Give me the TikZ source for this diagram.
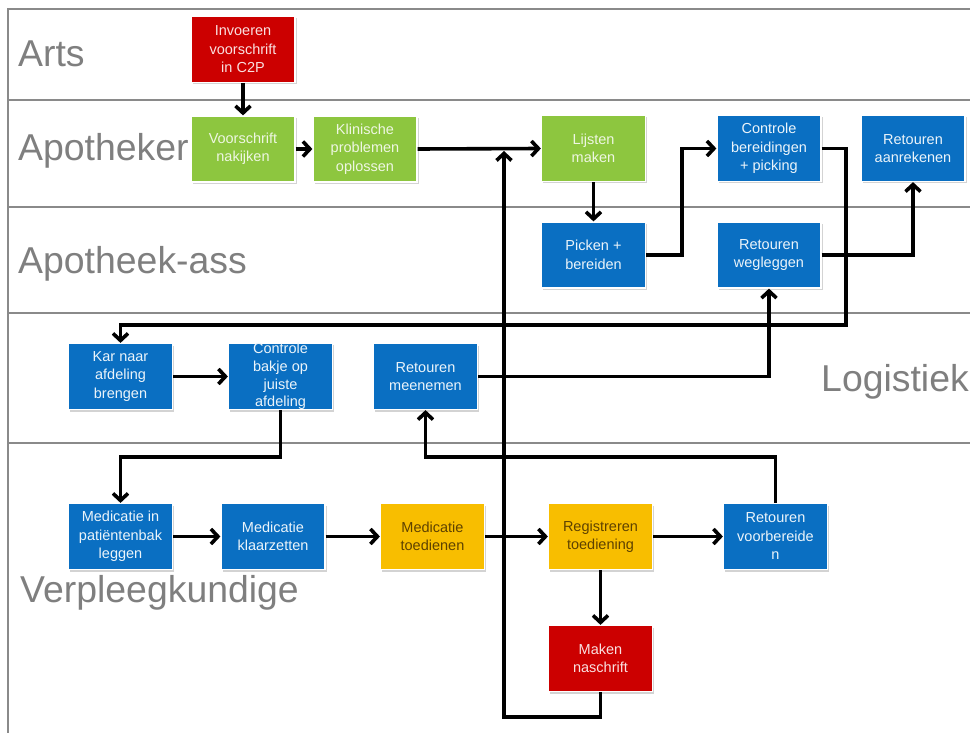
\documentclass[tikz,border=0pt]{standalone}
\usepackage{fontspec}
\setmainfont{Liberation Sans}
\usetikzlibrary{arrows.meta,shadows}
\definecolor{lanegray}{HTML}{8A8A8A}
\definecolor{labelgray}{HTML}{7F7F7F}
\definecolor{boxgreen}{HTML}{8DC63F}
\definecolor{boxblue}{HTML}{0A6FC2}
\definecolor{boxred}{HTML}{CC0000}
\definecolor{boxyellow}{HTML}{F8BE00}
\definecolor{yellowtext}{HTML}{5E4200}
\begin{document}
\begin{tikzpicture}[x=1pt,y=-1pt,
  lane/.style={draw=lanegray, line width=2.2pt},
  lanelabel/.style={text=labelgray, font=\fontsize{37.4}{40}\selectfont, anchor=base west, inner sep=0pt},
  box/.style={minimum width=104pt, minimum height=66pt, inner sep=0pt, align=center,
    font=\fontsize{14.5}{18.5}\selectfont, draw=white, line width=1.2pt,
    drop shadow={opacity=0.35, shadow xshift=1.5pt, shadow yshift=-2pt}},
  greenbox/.style={box, fill=boxgreen, text=white!85!boxgreen},
  bluebox/.style={box, fill=boxblue, text=white!92!boxblue},
  redbox/.style={box, fill=boxred, text=white!88!boxred},
  yellowbox/.style={box, fill=boxyellow, text=yellowtext},
  arr/.style={draw=black, line width=3.6pt, -{Straight Barb[length=7pt,width=15pt]}}
]
\useasboundingbox (0,0) rectangle (970,733);
\clip (0,0) rectangle (970,733);

% lanes
\draw[lane] (970,9) -- (8,9) -- (8,733);
\draw[lane] (8,100) -- (970,100);
\draw[lane] (8,207) -- (970,207);
\draw[lane] (8,313) -- (970,313);
\draw[lane] (8,443) -- (970,443);

% lane labels
\node[lanelabel] (lArts) at (18,67) {Arts};
\node[lanelabel] (lApo) at (18,161) {Apotheker};
\node[lanelabel] (lAss) at (18,273) {Apotheek-ass};
\node[lanelabel] (lLog) at (821,391) {Logistiek};
\node[lanelabel] (lVer) at (20,602) {Verpleegkundige};

% boxes
\node[redbox] (inv) at (243,49.5) {Invoeren\\voorschrift\\in C2P};
\node[greenbox] (voor) at (243,149) {Voorschrift\\nakijken};
\node[greenbox] (klin) at (365,149) {Klinische\\problemen\\oplossen};
\node[greenbox] (lijst) at (593.5,148.5) {Lijsten\\maken};
\node[bluebox] (contr) at (769,148.5) {Controle\\bereidingen\\+ picking};
\node[bluebox] (retaan) at (913,148.5) {Retouren\\aanrekenen};
\node[bluebox] (pick) at (593.5,255) {Picken +\\bereiden};
\node[bluebox] (retweg) at (769,255) {Retouren\\wegleggen};
\node[bluebox] (kar) at (120.5,376.5) {Kar naar\\afdeling\\brengen};
\node[bluebox, font=\fontsize{14.5}{17.7}\selectfont] (cbak) at (280.5,376.5) {Controle\\bakje op\\juiste\\afdeling};
\node[bluebox] (retmee) at (425.5,376.5) {Retouren\\meenemen};
\node[bluebox] (medin) at (120.5,536.5) {Medicatie in\\patiëntenbak\\leggen};
\node[bluebox] (medk) at (273,536.5) {Medicatie\\klaarzetten};
\node[yellowbox] (medt) at (432.5,536.5) {Medicatie\\toedienen};
\node[yellowbox] (reg) at (600.5,536.5) {Registreren\\toediening};
\node[bluebox] (retvb) at (775.5,536.5) {Retouren\\voorbereide\\n};
\node[redbox] (maken) at (600.5,658.5) {Maken\\naschrift};

% helper coordinates
\coordinate (yTop) at (846,325);
\coordinate (yMid) at (0,457);
\coordinate (yBot) at (0,717);
\coordinate (join) at (504,151);

% connectors
\draw[arr] (inv.south) -- (voor.north);
\draw[arr] (voor.east) -- (klin.west);
\draw[arr] (klin.east) -- (lijst.west);
\draw[arr] (lijst.south) -- (pick.north);
\draw[arr] (pick.east) -- ++(36,0) |- (contr.west);
\draw[arr] (contr.east) -| (yTop) -| (kar.north);
\draw[arr] (retweg.east) -| (retaan.south);
\draw[arr] (kar.east) -- (cbak.west);
\draw[arr] (cbak.south) |- (medin.north |- yMid) -- (medin.north);
\draw[arr] (retmee.east) -| (retweg.south);
\draw[arr] (retvb.north) |- (retmee.south |- yMid) -- (retmee.south);
\draw[arr] (medin.east) -- (medk.west);
\draw[arr] (medk.east) -- (medt.west);
\draw[arr] (medt.east) -- (reg.west);
\draw[arr] (reg.east) -- (retvb.west);
\draw[arr] (reg.south) -- (maken.north);
\draw[arr] (maken.south) |- (join |- yBot) -- (join);
\end{tikzpicture}
\end{document}
